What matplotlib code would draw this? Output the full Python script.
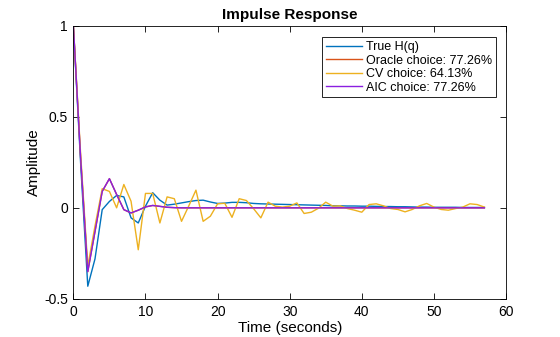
import matplotlib
matplotlib.use('Agg')
import matplotlib.pyplot as plt

plt.rcParams['font.family'] = ['Liberation Sans', 'DejaVu Sans']

# Impulse response samples, one per second
time = list(range(58))

true_h = [1.0, 0.25, -0.43, -0.28, -0.01, 0.035, 0.068, 0.06, -0.055, -0.083,
          0.009, 0.083, 0.042, 0.015, 0.02, 0.027, 0.034, 0.04, 0.042, 0.032,
          0.024, 0.026, 0.03, 0.03, 0.028, 0.024, 0.022, 0.021, 0.02, 0.019,
          0.018, 0.017, 0.016, 0.015, 0.014, 0.013, 0.011, 0.011, 0.01, 0.01,
          0.009, 0.009, 0.008, 0.007, 0.007, 0.006, 0.006, 0.005, 0.004, 0.004,
          0.003, 0.003, 0.003, 0.003, 0.002, 0.002, 0.002, 0.002]

aic_h = [1.0, 0.28, -0.35, -0.13, 0.09, 0.16, 0.073, -0.01, -0.028, -0.013,
         0.005, 0.013, 0.008, 0.003, 0.001, 0.0, 0.0, 0.0, 0.0, 0.0,
         0.0, 0.0, 0.0, 0.0, 0.0, 0.0, 0.0, 0.0, 0.0, 0.0,
         0.0, 0.0, 0.0, 0.0, 0.0, 0.0, 0.0, 0.0, 0.0, 0.0,
         0.0, 0.0, 0.0, 0.0, 0.0, 0.0, 0.0, 0.0, 0.0, 0.0,
         0.0, 0.0, 0.0, 0.0, 0.0, 0.0, 0.0, 0.0]

# oracle picked the same model as AIC
oracle_h = list(aic_h)

cv_h = [1.0, 0.3, -0.32, -0.1, 0.105, 0.09, 0.0, 0.128, 0.036, -0.23,
        0.079, 0.079, -0.083, 0.06, 0.05, -0.074, 0.01, 0.097, -0.074, -0.046,
        0.022, 0.025, -0.052, 0.05, 0.04, -0.005, -0.055, 0.031, 0.009, 0.004,
        0.009, 0.027, -0.031, -0.024, -0.002, 0.031, 0.009, 0.011, -0.004, -0.013,
        -0.024, 0.018, 0.022, 0.011, -0.004, -0.009, -0.022, -0.009, 0.011, 0.024,
        0.004, -0.009, -0.013, -0.004, 0.004, 0.022, 0.018, 0.004]

labels = ['True H(q)', 'Oracle choice: 77.26%', 'CV choice: 64.13%', 'AIC choice: 77.26%']
colors = ['#0072BD', '#D95319', '#EDB120', '#8a1fe0']

fig = plt.figure(figsize=(5.6, 3.37), dpi=100)
ax = fig.add_axes([0.131, 0.1128, 0.7726, 0.8115])

for y, lab, c in zip([true_h, oracle_h, cv_h, aic_h], labels, colors):
    ax.plot(time, y, color=c, lw=1.0, label=lab)

ax.set_xlim(0, 60)
ax.set_ylim(-0.5, 1)
ax.set_xticks(range(0, 61, 10))
ax.set_yticks([-0.5, 0, 0.5, 1])
ax.set_yticklabels(['-0.5', '0', '0.5', '1'])
ax.tick_params(direction='in', top=True, right=True, length=4, width=0.6,
               labelsize=10, pad=4)
for s in ax.spines.values():
    s.set_linewidth(0.6)

ax.set_title('Impulse Response', fontsize=11, fontweight='bold', pad=5)
ax.set_xlabel('Time (seconds)', fontsize=11, labelpad=2)
ax.set_ylabel('Amplitude', fontsize=11, labelpad=2)

leg = ax.legend(loc='upper right', bbox_to_anchor=(495.7 / 560, 1 - 37.3 / 337),
                bbox_transform=fig.transFigure, fontsize=9, handlelength=2.9,
                handletextpad=0.3, labelspacing=0.12, borderpad=0.3,
                borderaxespad=0, fancybox=False, framealpha=1)
leg.get_frame().set_edgecolor('black')
leg.get_frame().set_linewidth(0.6)

fig.savefig('out.png', dpi=100)
